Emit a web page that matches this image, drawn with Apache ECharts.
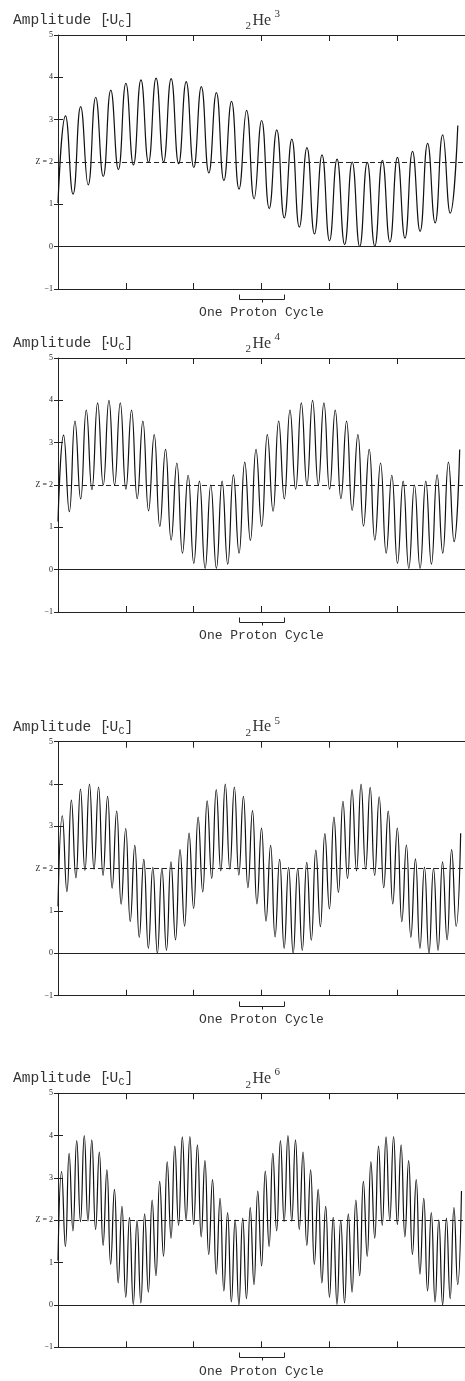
<!DOCTYPE html>
<html>
<head>
<meta charset="utf-8">
<script src="https://cdn.jsdelivr.net/npm/echarts@6/dist/echarts.min.js"></script>
<style>
  html, body { margin: 0; padding: 0; background: #fff; }
  #chart { width: 465px; height: 1381px; }
</style>
</head>
<body>
<div id="chart"></div>
<script>
// Helium isotopes shown, one panel each
const massNumbers = ['3', '4', '5', '6'];

// Turning points of the amplitude curve (x in axis-tick units, y in U_C)
const he3X = [0, 0.111, 0.222, 0.334, 0.445, 0.556, 0.667, 0.778, 0.890, 1.001,
  1.112, 1.223, 1.334, 1.446, 1.557, 1.668, 1.779, 1.890, 2.002, 2.113,
  2.224, 2.335, 2.446, 2.558, 2.669, 2.780, 2.891, 3.002, 3.114, 3.225,
  3.336, 3.447, 3.558, 3.670, 3.781, 3.892, 4.003, 4.114, 4.226, 4.337,
  4.448, 4.559, 4.670, 4.782, 4.893, 5.004, 5.115, 5.226, 5.338, 5.449,
  5.560, 5.671, 5.782, 5.894];
const he3Y = [1.03, 3.09, 1.24, 3.31, 1.46, 3.53, 1.66, 3.70, 1.82, 3.86,
  1.93, 3.94, 1.99, 3.98, 2.00, 3.97, 1.96, 3.90, 1.87, 3.78,
  1.74, 3.64, 1.56, 3.43, 1.36, 3.22, 1.13, 2.98, 0.90, 2.76,
  0.68, 2.54, 0.46, 2.34, 0.30, 2.17, 0.14, 2.07, 0.05, 2.00,
  0.00, 1.99, 0.01, 2.04, 0.11, 2.11, 0.20, 2.25, 0.36, 2.44,
  0.56, 2.64, 0.79, 2.86];

const he4X = [0, 0.083, 0.167, 0.250, 0.334, 0.417, 0.500, 0.584, 0.667, 0.751,
  0.834, 0.918, 1.001, 1.084, 1.168, 1.251, 1.335, 1.418, 1.501, 1.585,
  1.668, 1.752, 1.835, 1.918, 2.002, 2.085, 2.169, 2.252, 2.335, 2.419,
  2.502, 2.586, 2.669, 2.753, 2.836, 2.919, 3.003, 3.086, 3.170, 3.253,
  3.336, 3.420, 3.503, 3.587, 3.670, 3.753, 3.837, 3.920, 4.004, 4.087,
  4.171, 4.254, 4.337, 4.421, 4.504, 4.588, 4.671, 4.755, 4.838, 4.921,
  5.005, 5.088, 5.172, 5.255, 5.338, 5.422, 5.505, 5.589, 5.672, 5.756,
  5.839, 5.922];
const he4Y = [1.14, 3.18, 1.37, 3.51, 1.67, 3.77, 1.89, 3.94, 2.00, 4.00,
  2.00, 3.94, 1.90, 3.77, 1.68, 3.51, 1.39, 3.19, 1.02, 2.84,
  0.70, 2.52, 0.39, 2.23, 0.15, 2.09, 0.03, 2.00, 0.03, 2.09,
  0.13, 2.24, 0.39, 2.54, 0.69, 2.84, 1.02, 3.19, 1.38, 3.51,
  1.67, 3.77, 1.90, 3.94, 2.00, 4.00, 2.00, 3.94, 1.90, 3.77,
  1.68, 3.51, 1.40, 3.19, 1.03, 2.84, 0.70, 2.52, 0.39, 2.23,
  0.15, 2.09, 0.03, 2.00, 0.03, 2.09, 0.13, 2.24, 0.39, 2.54,
  0.66, 2.84];

const he5X = [0, 0.064, 0.131, 0.197, 0.264, 0.331, 0.397, 0.464, 0.531, 0.598,
  0.664, 0.731, 0.798, 0.865, 0.931, 0.998, 1.065, 1.132, 1.198, 1.265,
  1.332, 1.398, 1.465, 1.532, 1.599, 1.665, 1.732, 1.799, 1.866, 1.932,
  1.999, 2.066, 2.133, 2.199, 2.266, 2.333, 2.400, 2.466, 2.533, 2.600,
  2.666, 2.733, 2.800, 2.867, 2.933, 3.000, 3.067, 3.134, 3.200, 3.267,
  3.334, 3.400, 3.467, 3.534, 3.601, 3.667, 3.734, 3.801, 3.868, 3.934,
  4.001, 4.068, 4.134, 4.201, 4.268, 4.335, 4.401, 4.468, 4.535, 4.602,
  4.668, 4.735, 4.802, 4.868, 4.935, 5.002, 5.069, 5.136, 5.202, 5.269,
  5.336, 5.402, 5.469, 5.536, 5.603, 5.669, 5.736, 5.803, 5.869, 5.936];
const he5Y = [1.11, 3.25, 1.46, 3.62, 1.78, 3.88, 1.96, 4.00, 1.99, 3.93,
  1.84, 3.71, 1.54, 3.36, 1.16, 2.95, 0.75, 2.55, 0.38, 2.22,
  0.12, 2.03, 0.00, 2.01, 0.07, 2.16, 0.32, 2.45, 0.64, 2.84,
  1.06, 3.22, 1.45, 3.60, 1.77, 3.87, 1.95, 4.00, 1.99, 3.93,
  1.85, 3.71, 1.55, 3.37, 1.17, 2.96, 0.76, 2.55, 0.39, 2.22,
  0.12, 2.03, 0.00, 2.01, 0.07, 2.15, 0.31, 2.44, 0.63, 2.83,
  1.05, 3.22, 1.44, 3.59, 1.77, 3.87, 1.95, 4.00, 1.99, 3.92,
  1.84, 3.70, 1.55, 3.36, 1.17, 2.96, 0.75, 2.56, 0.38, 2.23,
  0.12, 2.04, 0.00, 2.01, 0.07, 2.16, 0.32, 2.45, 0.64, 2.84];

const he6X = [0, 0.053, 0.109, 0.164, 0.220, 0.276, 0.331, 0.387, 0.442, 0.498,
  0.554, 0.609, 0.665, 0.721, 0.776, 0.832, 0.887, 0.943, 0.999, 1.054,
  1.110, 1.165, 1.221, 1.277, 1.332, 1.388, 1.444, 1.499, 1.555, 1.610,
  1.666, 1.722, 1.777, 1.833, 1.888, 1.944, 2.000, 2.055, 2.111, 2.166,
  2.222, 2.278, 2.333, 2.389, 2.445, 2.500, 2.556, 2.611, 2.667, 2.723,
  2.778, 2.834, 2.889, 2.945, 3.001, 3.056, 3.112, 3.167, 3.223, 3.279,
  3.334, 3.390, 3.446, 3.501, 3.557, 3.612, 3.668, 3.724, 3.779, 3.835,
  3.890, 3.946, 4.002, 4.057, 4.113, 4.168, 4.224, 4.280, 4.335, 4.391,
  4.447, 4.502, 4.558, 4.613, 4.669, 4.725, 4.780, 4.836, 4.891, 4.947,
  5.003, 5.058, 5.114, 5.169, 5.225, 5.281, 5.336, 5.392, 5.448, 5.503,
  5.559, 5.614, 5.670, 5.726, 5.781, 5.837, 5.892, 5.948];
const he6Y = [1.05, 3.15, 1.38, 3.58, 1.75, 3.88, 1.97, 4.00, 1.98, 3.90,
  1.78, 3.61, 1.41, 3.19, 0.96, 2.73, 0.52, 2.33, 0.18, 2.07,
  0.01, 2.00, 0.05, 2.15, 0.30, 2.48, 0.69, 2.92, 1.15, 3.38,
  1.58, 3.75, 1.88, 3.97, 2.00, 3.98, 1.90, 3.78, 1.61, 3.41,
  1.19, 2.96, 0.73, 2.52, 0.33, 2.18, 0.07, 2.01, 0.00, 2.05,
  0.15, 2.30, 0.48, 2.69, 0.92, 3.16, 1.38, 3.58, 1.75, 3.88,
  1.97, 4.00, 1.98, 3.90, 1.78, 3.61, 1.41, 3.19, 0.96, 2.73,
  0.52, 2.33, 0.18, 2.07, 0.01, 2.00, 0.05, 2.15, 0.30, 2.48,
  0.69, 2.92, 1.15, 3.38, 1.58, 3.75, 1.88, 3.97, 2.00, 3.98,
  1.90, 3.78, 1.61, 3.41, 1.19, 2.96, 0.73, 2.52, 0.33, 2.18,
  0.07, 2.01, 0.00, 2.05, 0.15, 2.30, 0.48, 2.69];

const seriesX = [he3X, he4X, he5X, he6X];
const seriesY = [he3Y, he4Y, he5Y, he6Y];

// Amplitude axis tick labels
const yTicks = [-1, 0, 1, 2, 3, 4, 5];
const yTickLabels = ['\u22121', '0', '1', 'Z = 2', '3', '4', '5'];
const zeroLevel = 0;
const chargeLevel = 2;

// Length of one proton cycle in x-tick units, centred on tick 3
const protonCycle = 2 / 3;
const protonCentre = 3;

// ---- layout ----
const W = 465, H = 1381;
const GRID_LEFT = 58;
const UNIT_W = 68.93;          // px per x tick
const PLOT_H = 254;
const panelTops = [35, 358, 741.7, 1093.3];
const INK = '#222';
const MONO = '"Liberation Mono", "DejaVu Sans Mono", monospace';
const SERIF = '"Liberation Serif", "DejaVu Serif", serif';

const chart = echarts.init(document.getElementById('chart'), null, { renderer: 'canvas', width: W, height: H });

const grids = [], xAxes = [], yAxes = [], series = [];
panelTops.forEach((top, i) => {
  grids.push({ left: GRID_LEFT, top: top, width: UNIT_W * 6, height: PLOT_H, containLabel: false });
  const xBase = {
    gridIndex: i, type: 'value', min: 0, max: 6, interval: 1,
    axisLine: { show: true, onZero: false, lineStyle: { color: INK, width: 1 } },
    axisTick: { show: true, inside: true, length: 6, lineStyle: { color: INK, width: 1 } },
    axisLabel: { show: false }, splitLine: { show: false }
  };
  xAxes.push(Object.assign({}, xBase, { position: 'bottom' }));
  xAxes.push(Object.assign({}, xBase, { position: 'top' }));
  const yBase = {
    gridIndex: i, type: 'value', min: -1, max: 5, interval: 1, position: 'left',
    splitLine: { show: false }
  };
  yAxes.push(Object.assign({}, yBase, {
    axisLine: { show: true, onZero: false, lineStyle: { color: INK, width: 1 } },
    axisTick: { show: true, inside: false, length: 4, lineStyle: { color: INK, width: 1 } },
    axisLabel: {
      show: true, margin: 5, color: INK, fontSize: 8, fontFamily: SERIF,
      formatter: v => { const k = yTicks.indexOf(Math.round(v)); return k >= 0 ? yTickLabels[k] : ''; }
    }
  }));
  yAxes.push(Object.assign({}, yBase, {
    axisLine: { show: false },
    axisTick: { show: true, inside: true, length: 5, lineStyle: { color: INK, width: 1 } },
    axisLabel: { show: false }
  }));
  const xs = seriesX[i], ys = seriesY[i];
  const n = Math.min(xs.length, ys.length);
  const data = [];
  for (let j = 0; j < n; j++) data.push([xs[j], ys[j]]);
  series.push({
    type: 'line', xAxisIndex: 2 * i, yAxisIndex: 2 * i, data: data,
    smooth: 0.5, symbol: 'none', showSymbol: false, clip: true,
    lineStyle: { color: '#111', width: 1.2 },
    markLine: {
      silent: true, symbol: 'none', label: { show: false }, animation: false,
      data: [
        { yAxis: zeroLevel, lineStyle: { type: 'solid', color: INK, width: 1 } },
        { yAxis: chargeLevel, lineStyle: { type: [5, 3], color: INK, width: 1 } }
      ]
    }
  });
});

chart.setOption({
  animation: false,
  backgroundColor: '#fff',
  grid: grids, xAxis: xAxes, yAxis: yAxes, series: series
});

// Titles, proton-cycle brackets and captions
const graphics = [];
panelTops.forEach((top, i) => {
  const capMid = top - 15;       // vertical centre of title capitals
  const bottom = top + PLOT_H;
  graphics.push(
    { type: 'text', x: 13, y: capMid, style: { text: 'Amplitude [', font: '14.5px ' + MONO, fill: '#333', textVerticalAlign: 'middle' } },
    { type: 'text', x: 107.5, y: capMid, style: { text: '\u00b7', font: '14.5px ' + MONO, fill: '#333', textAlign: 'center', textVerticalAlign: 'middle' } },
    { type: 'text', x: 109.5, y: capMid, style: { text: 'U', font: '14.5px ' + MONO, fill: '#333', textVerticalAlign: 'middle' } },
    { type: 'text', x: 118.5, y: capMid + 4.5, style: { text: 'C', font: '10px ' + MONO, fill: '#333', textVerticalAlign: 'middle' } },
    { type: 'text', x: 124.5, y: capMid, style: { text: ']', font: '14.5px ' + MONO, fill: '#333', textVerticalAlign: 'middle' } },
    { type: 'text', x: 245.5, y: capMid + 6.5, style: { text: '2', font: '11px ' + SERIF, fill: '#333', textVerticalAlign: 'middle' } },
    { type: 'text', x: 252.5, y: capMid + 0.5, style: { text: 'He', font: '16px ' + SERIF, fill: '#333', textVerticalAlign: 'middle' } },
    { type: 'text', x: 274.5, y: capMid - 6, style: { text: massNumbers[i], font: '11px ' + SERIF, fill: '#333', textVerticalAlign: 'middle' } }
  );
  const xl = chart.convertToPixel({ xAxisIndex: 2 * i }, protonCentre - protonCycle / 2);
  const xr = chart.convertToPixel({ xAxisIndex: 2 * i }, protonCentre + protonCycle / 2);
  const xc = chart.convertToPixel({ xAxisIndex: 2 * i }, protonCentre);
  const yb = Math.round(bottom + 10) + 0.5;
  graphics.push(
    { type: 'polyline', shape: { points: [[Math.round(xl) + 0.5, yb - 5], [Math.round(xl) + 0.5, yb], [Math.round(xr) + 0.5, yb], [Math.round(xr) + 0.5, yb - 5]] },
      style: { stroke: INK, lineWidth: 1, fill: null } },
    { type: 'line', shape: { x1: Math.round(xc) + 0.5, y1: yb, x2: Math.round(xc) + 0.5, y2: yb + 3 },
      style: { stroke: INK, lineWidth: 1 } },
    { type: 'text', x: xc, y: bottom + 24, style: { text: 'One Proton Cycle', font: '13px ' + MONO, fill: '#333', textAlign: 'center', textVerticalAlign: 'middle' } }
  );
});
chart.setOption({ graphic: graphics });
</script>
</body>
</html>
